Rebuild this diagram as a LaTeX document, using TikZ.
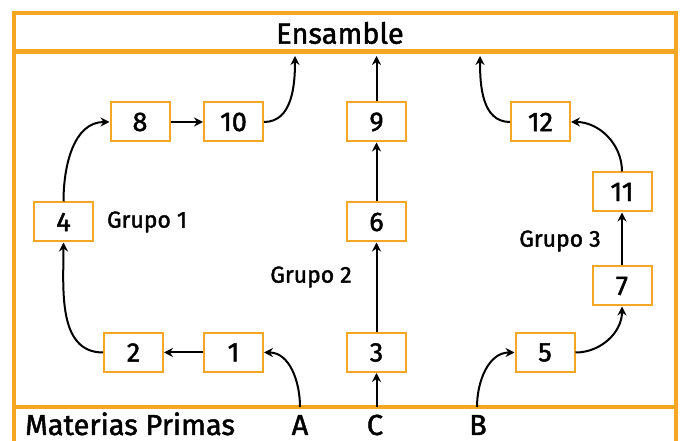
\documentclass[tikz,border=0pt]{standalone}
\usepackage{fontspec}
\setmainfont{Fira Sans}
\newfontfamily\medfont{Fira Sans}[FakeBold=1.6]
\usepackage{xcolor}
\definecolor{frameorange}{RGB}{245,166,35}
\usetikzlibrary{arrows.meta,positioning,calc}

\begin{document}
\begin{tikzpicture}[
    x=1pt, y=1pt,
    box/.style={draw=frameorange, line width=2pt, fill=white, minimum width=59pt, minimum height=39pt, inner sep=0pt, font=\fontsize{27}{27}\medfont},
    band/.style={draw=frameorange, line width=4.5pt},
    lbl/.style={inner sep=0pt, font=\fontsize{23}{23}\medfont},
    big/.style={inner sep=0pt, font=\fontsize{29}{29}\medfont},
    arr/.style={-{Stealth[length=9pt,width=9pt]}, line width=2pt, black}
]
\useasboundingbox (0,0) rectangle (680,441);
\clip (0,0) rectangle (680,441);

% frame and bands
\draw[band] (14,-9) -- (14,428) -- (676,428) -- (676,-9);
\draw[band] (14,389.5) -- (676,389.5);
\draw[band] (14,34) -- (676,34);
\node[big] (ens) at (340,408) {Ensamble};
\node[big, anchor=base west] (mp) at (25,6) {Materias Primas};
\node[big, anchor=base] (A) at (300,6) {A};
\node[big, anchor=base] (C) at (375,6) {C};
\node[big, anchor=base] (B) at (478,6) {B};

% entry and exit points
\coordinate (inA) at (300,34);
\coordinate (inC) at (376.5,34);
\coordinate (inB) at (477,34);
\coordinate (outL) at (295,385);
\coordinate (outM) at (376.5,385);
\coordinate (outR) at (480,385);

% Grupo 1
\node[box] (b1) at (233.5,88.5) {1};
\node[box] (b2) at (133.5,88.5) {2};
\node[box] (b4) at (63.5,219) {4};
\node[box] (b8) at (140,319) {8};
\node[box] (b10) at (233.5,319) {10};
\node[lbl] (g1) at (147,219) {Grupo 1};

% Grupo 2
\node[box] (b3) at (376.5,88.5) {3};
\node[box] (b6) at (376.5,219) {6};
\node[box] (b9) at (376.5,319) {9};
\node[lbl] (g2) at (311,164) {Grupo 2};

% Grupo 3
\node[box] (b5) at (545,88.5) {5};
\node[box] (b7) at (622,155) {7};
\node[box] (b11) at (622,249) {11};
\node[box] (b12) at (540.5,319) {12};
\node[lbl] (g3) at (560,200) {Grupo 3};

% connectors
\draw[arr] (inA) to[out=90, in=0] (b1.east);
\draw[arr] (b1) -- (b2);
\draw[arr] (b2.west) to[out=180, in=-90] (b4.south);
\draw[arr] (b4.north) to[out=90, in=180] (b8.west);
\draw[arr] (b8) -- (b10);
\draw[arr] (b10.east) to[out=0, in=-90] (outL);

\draw[arr] (inC) -- (b3);
\draw[arr] (b3) -- (b6);
\draw[arr] (b6) -- (b9);
\draw[arr] (b9) -- (outM);

\draw[arr] (inB) to[out=90, in=180] (b5.west);
\draw[arr] (b5.east) to[out=0, in=-90] (b7.south);
\draw[arr] (b7) -- (b11);
\draw[arr] (b11.north) to[out=90, in=0] (b12.east);
\draw[arr] (b12.west) to[out=180, in=-90] (outR);
\end{tikzpicture}
\end{document}
